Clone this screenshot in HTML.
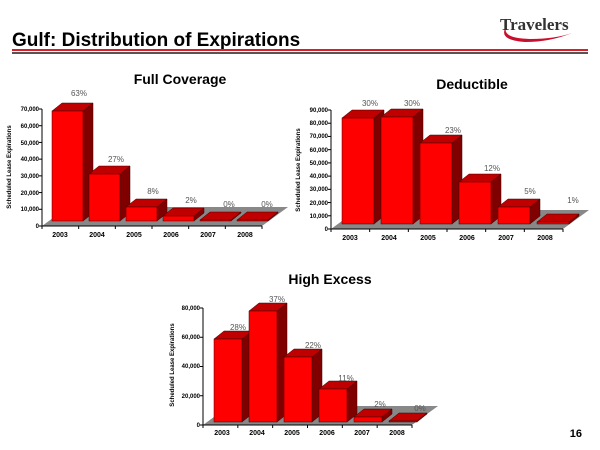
<!DOCTYPE html>
<html><head><meta charset="utf-8"><style>
body{margin:0;background:#fff;}
svg{display:block;font-family:"Liberation Sans",Arial,sans-serif;}
.t{font-size:8px;fill:#555}
.yl{font-size:6px;font-weight:bold;fill:#000}
.ax{font-size:7px;font-weight:bold;fill:#000}
.ct{font-size:14px;font-weight:bold;fill:#000}
</style></head><body>
<svg id="s" width="600" height="450" viewBox="0 0 600 450">
<text x="12" y="46" font-size="19" font-weight="bold" fill="#000">Gulf: Distribution of Expirations</text>
<rect x="12" y="49" width="576" height="2" fill="#d8202a"/>
<rect x="12" y="52" width="576" height="2" fill="#555"/>
<path d="M508 24 Q498 38 530 39 Q555 39 572 33 Q550 42 525 42 Q495 40 508 24Z" fill="#c8102e"/>
<text x="500" y="30" font-family="Liberation Serif,serif" font-size="17" font-weight="bold" fill="#333">Travelers</text>
<text x="582" y="437" font-size="11" font-weight="bold" text-anchor="end">16</text>

<g id="g1"></g><g id="g2"></g><g id="g3"></g>

<!-- Full Coverage -->
<text class="ct" x="180" y="84" text-anchor="middle">Full Coverage</text>
<text class="yl" transform="translate(11,167) rotate(-90)" text-anchor="middle" font-size="7">Scheduled Lease Expirations</text>
<g class="yl" text-anchor="end">
<text x="39" y="111">70,000</text><text x="39" y="128">60,000</text><text x="39" y="145">50,000</text><text x="39" y="161">40,000</text><text x="39" y="178">30,000</text><text x="39" y="195">20,000</text><text x="39" y="211">10,000</text><text x="39" y="228">0</text></g>
<g class="ax" text-anchor="middle"><text x="60" y="237">2003</text><text x="97" y="237">2004</text><text x="134" y="237">2005</text><text x="171" y="237">2006</text><text x="208" y="237">2007</text><text x="245" y="237">2008</text></g>
<g class="t" text-anchor="middle"><text x="79" y="96">63%</text><text x="116" y="162">27%</text><text x="153" y="194">8%</text><text x="191" y="203">2%</text><text x="229" y="207">0%</text><text x="267" y="207">0%</text></g>

<!-- Deductible -->
<text class="ct" x="472" y="89" text-anchor="middle">Deductible</text>
<text class="yl" transform="translate(300,170) rotate(-90)" text-anchor="middle" font-size="7">Scheduled Lease Expirations</text>
<g class="yl" text-anchor="end">
<text x="328" y="112">90,000</text><text x="328" y="125">80,000</text><text x="328" y="138">70,000</text><text x="328" y="152">60,000</text><text x="328" y="165">50,000</text><text x="328" y="178">40,000</text><text x="328" y="191">30,000</text><text x="328" y="205">20,000</text><text x="328" y="218">10,000</text><text x="328" y="231">0</text></g>
<g class="ax" text-anchor="middle"><text x="350" y="240">2003</text><text x="389" y="240">2004</text><text x="428" y="240">2005</text><text x="467" y="240">2006</text><text x="506" y="240">2007</text><text x="545" y="240">2008</text></g>
<g class="t" text-anchor="middle"><text x="370" y="106">30%</text><text x="412" y="106">30%</text><text x="453" y="133">23%</text><text x="492" y="171">12%</text><text x="530" y="194">5%</text><text x="573" y="203">1%</text></g>

<!-- High Excess -->
<text class="ct" x="330" y="284" text-anchor="middle">High Excess</text>
<text class="yl" transform="translate(174,365) rotate(-90)" text-anchor="middle" font-size="7">Scheduled Lease Expirations</text>
<g class="yl" text-anchor="end">
<text x="200" y="310">80,000</text><text x="200" y="339">60,000</text><text x="200" y="368">40,000</text><text x="200" y="398">20,000</text><text x="200" y="427">0</text></g>
<g class="ax" text-anchor="middle"><text x="222" y="435">2003</text><text x="257" y="435">2004</text><text x="292" y="435">2005</text><text x="327" y="435">2006</text><text x="362" y="435">2007</text><text x="397" y="435">2008</text></g>
<g class="t" text-anchor="middle"><text x="238" y="330">28%</text><text x="277" y="302">37%</text><text x="313" y="348">22%</text><text x="346" y="381">11%</text><text x="380" y="407">2%</text><text x="420" y="411">0%</text></g>
</svg>
<script>
function chart(id,ax,y0,ytop,nt,x0,step,w,tops,bot,dx,dy,xr){
 var g=document.getElementById(id),h='';
 h+='<polygon points="'+ax+','+y0+' '+(xr)+','+y0+' '+(xr+26)+','+(y0-19)+' '+(ax+26)+','+(y0-19)+'" fill="#888"/>';
 h+='<line x1="'+ax+'" y1="'+ytop+'" x2="'+ax+'" y2="'+y0+'" stroke="#000"/>';
 h+='<line x1="'+ax+'" y1="'+y0+'" x2="'+xr+'" y2="'+y0+'" stroke="#000"/>';
 for(var i=0;i<=nt;i++){var y=y0-(y0-ytop)*i/nt;h+='<line x1="'+(ax-3)+'" y1="'+y+'" x2="'+ax+'" y2="'+y+'" stroke="#000"/>';}
 for(var i=0;i<=6;i++){var x=ax+(xr-ax)*i/6;h+='<line x1="'+x+'" y1="'+y0+'" x2="'+x+'" y2="'+(y0+3)+'" stroke="#000"/>';}
 tops.forEach(function(t,i){var x=x0+i*step;
  h+='<polygon points="'+(x+w)+','+t+' '+(x+w+dx)+','+(t+dy)+' '+(x+w+dx)+','+(bot+dy)+' '+(x+w)+','+bot+'" fill="#800000" stroke="#400" stroke-width=".5"/>';
  h+='<polygon points="'+x+','+t+' '+(x+dx)+','+(t+dy)+' '+(x+w+dx)+','+(t+dy)+' '+(x+w)+','+t+'" fill="#c00000" stroke="#400" stroke-width=".5"/>';
  h+='<rect x="'+x+'" y="'+t+'" width="'+w+'" height="'+(bot-t)+'" fill="#ff0000" stroke="#400" stroke-width=".5"/>';
 });
 g.innerHTML=h;
}
chart('g1',42,226,109,7,52,37,31,[111,174,207,216,220,220],221,10,-8,262);
chart('g2',331,229,110,9,342,39,32,[118,117,143,182,207,222],224,10,-8,563);
chart('g3',203,425,308,4,214,35,28,[339,311,357,389,417,421],422,10,-8,412);
</script>
</body></html>
